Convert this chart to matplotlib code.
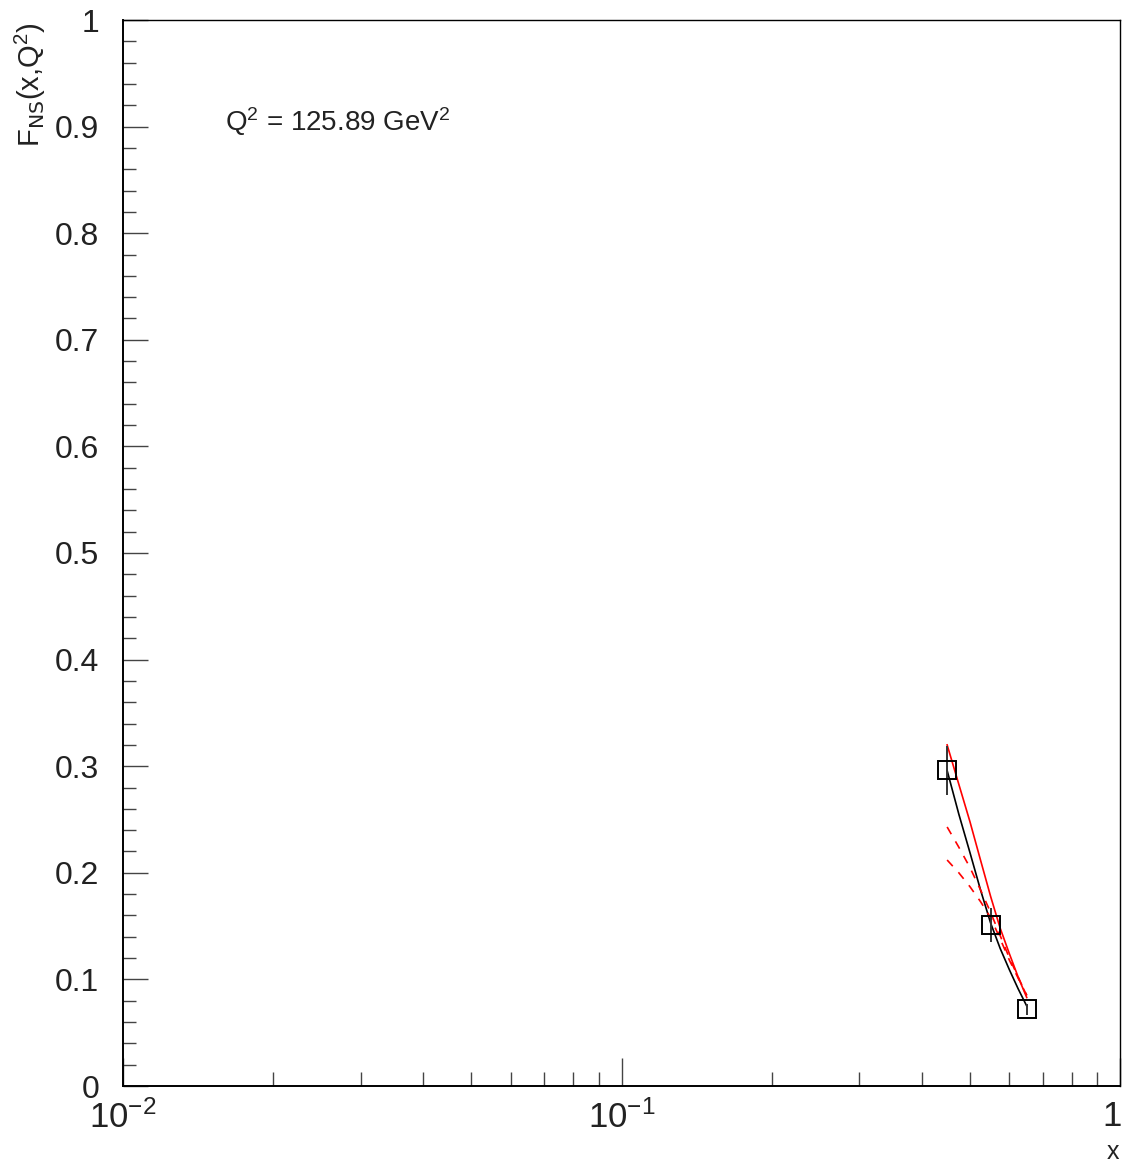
import matplotlib
matplotlib.use("Agg")
import matplotlib.pyplot as plt
import matplotlib.transforms as mtransforms
from matplotlib.ticker import FixedLocator, NullFormatter

plt.rcParams["font.family"] = ["Liberation Sans", "DejaVu Sans"]
plt.rcParams["mathtext.default"] = "regular"

# data points
x_data = [0.45, 0.55, 0.65]
y_data = [0.296, 0.151, 0.072]
y_err = [0.023, 0.016, 0.005]

# curves
x_curve = [0.45, 0.475, 0.5, 0.525, 0.55, 0.575, 0.6, 0.625, 0.65]
black_fit = [0.296, 0.255, 0.219, 0.184, 0.153, 0.129, 0.109, 0.091, 0.075]
red_fit = [0.320, 0.283, 0.248, 0.212, 0.178, 0.148, 0.124, 0.102, 0.083]
red_dash_a = [0.243, 0.224, 0.205, 0.184, 0.163, 0.141, 0.120, 0.102, 0.085]
red_dash_b = [0.212, 0.200, 0.187, 0.173, 0.158, 0.138, 0.118, 0.101, 0.085]

y_major = [0, 0.1, 0.2, 0.3, 0.4, 0.5, 0.6, 0.7, 0.8, 0.9, 1]
y_major_labels = ["0", "0.1", "0.2", "0.3", "0.4", "0.5", "0.6", "0.7", "0.8", "0.9", "1"]
y_minor = [i / 50 for i in range(51)]
x_minor = [m * d for d in (0.01, 0.1) for m in range(2, 10)]

fig = plt.figure(figsize=(11.25, 11.62), dpi=100)
ax = fig.add_axes([123 / 1125, 1 - 1086 / 1162, (1120 - 123) / 1125, (1086 - 20) / 1162])
ax.set_xscale("log")
ax.set_xlim(0.01, 1)
ax.set_ylim(0, 1)

ax.plot(x_curve, black_fit, color="black", lw=1.2)
ax.plot(x_curve, red_fit, color="red", lw=1.2)
ax.plot(x_curve, red_dash_a, color="red", lw=1.2, ls=(0, (5, 5)))
ax.plot(x_curve, red_dash_b, color="red", lw=1.2, ls=(0, (5, 5)))
ax.errorbar(x_data, y_data, yerr=y_err, fmt="s", ms=13, mfc="none", mec="black",
            mew=1.4, ecolor="#333333", elinewidth=1.4, capsize=0)

for side in ("top", "right"):
    ax.spines[side].set_linewidth(1.0)
for side in ("left", "bottom"):
    ax.spines[side].set_linewidth(1.4)

ax.yaxis.set_major_locator(FixedLocator(y_major))
ax.set_yticklabels(y_major_labels)
ax.yaxis.set_minor_locator(FixedLocator(y_minor))
ax.yaxis.set_minor_formatter(NullFormatter())
ax.xaxis.set_major_locator(FixedLocator([0.01, 0.1, 1]))
ax.set_xticklabels([r"$10^{-2}$", r"$10^{-1}$", "1"])
ax.xaxis.set_minor_locator(FixedLocator(x_minor))
ax.xaxis.set_minor_formatter(NullFormatter())

ax.tick_params(axis="both", which="both", direction="in", top=False, right=False,
               color="#444444", width=1.0, labelcolor="#222222")
ax.tick_params(axis="y", which="major", length=18, pad=17, labelsize=23)
ax.tick_params(axis="y", which="minor", length=9)
ax.tick_params(axis="x", which="major", length=20, pad=10, labelsize=25)
ax.tick_params(axis="x", which="minor", length=10)

# keep the "1" at the right end inside the canvas
last = ax.get_xticklabels()[-1]
last.set_transform(last.get_transform()
                   + mtransforms.ScaledTranslation(-6 / 72, 0, fig.dpi_scale_trans))

ax.text(0.102, 0.905, r"Q$^2$ = 125.89 GeV$^2$", transform=ax.transAxes,
        fontsize=20, color="#222222", va="center", ha="left")
fig.text(30 / 1125, 1 - 85 / 1162, r"F$_{\rm NS}$(x,Q$^2$)", rotation=90,
         fontsize=21, color="#222222", ha="center", va="center")
fig.text(1113 / 1125, 1 - 1152 / 1162, "x", fontsize=18, color="#222222",
         ha="center", va="center")

fig.savefig("out.png", dpi=100)
